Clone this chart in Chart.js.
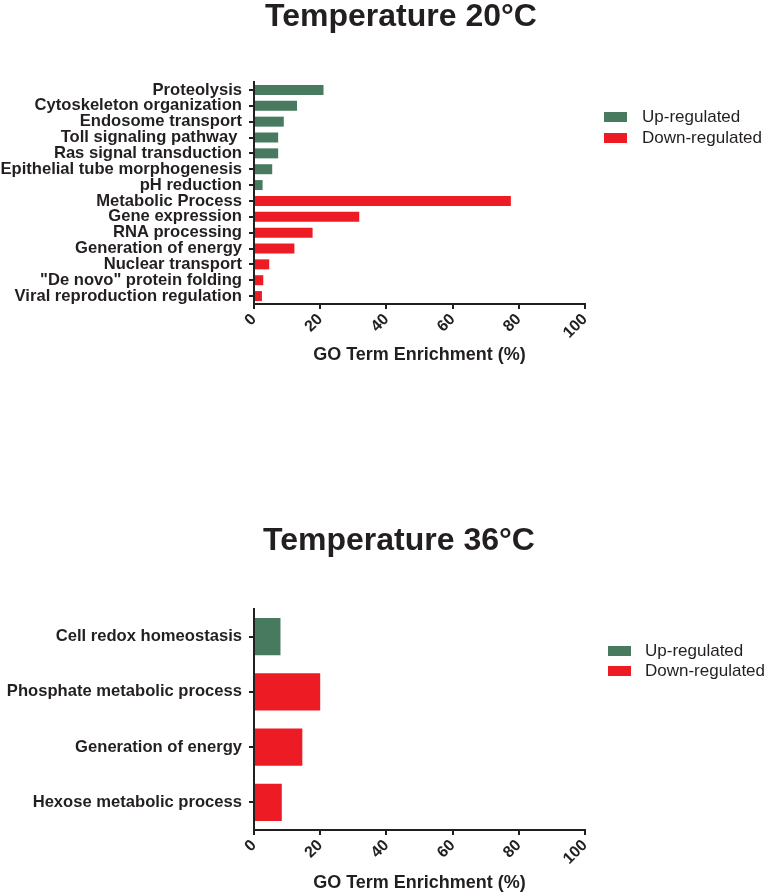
<!DOCTYPE html>
<html>
<head>
<meta charset="utf-8">
<script src="https://cdn.jsdelivr.net/npm/chart.js@4.4.1/dist/chart.umd.min.js"></script>
<style>
  body { margin: 0; background: #fff; width: 770px; height: 894px; overflow: hidden; position: relative; }
  canvas { position: absolute; left: 0; }
</style>
</head>
<body>
<canvas id="c20" width="770" height="366" style="top:0px"></canvas>
<canvas id="c36" width="770" height="371" style="top:523px"></canvas>
<script>
const terms20 = ['Proteolysis', 'Cytoskeleton organization', 'Endosome transport', 'Toll signaling pathway ',
  'Ras signal transduction', 'Epithelial tube morphogenesis', 'pH reduction', 'Metabolic Process',
  'Gene expression', 'RNA processing', 'Generation of energy', 'Nuclear transport',
  '"De novo" protein folding', 'Viral reproduction regulation'];
const up20 = [21, 13, 9, 7.3, 7.3, 5.5, 2.6, null, null, null, null, null, null, null];
const down20 = [null, null, null, null, null, null, null, 77.6, 31.8, 17.7, 12.2, 4.6, 2.8, 2.4];

const terms36 = ['Cell redox homeostasis', 'Phosphate metabolic process', 'Generation of energy', 'Hexose metabolic process'];
const up36 = [8, null, null, null];
const down36 = [null, 20, 14.6, 8.4];

const xMin = 0;
const xMax = 100;
const xStep = 20;

const GREEN = '#477a5f';
const RED = '#ed1c24';
const INK = '#231f20';
const FONT = 'Arial, "Liberation Sans", Helvetica, sans-serif';

// heading + legend drawn by hand, the built-in ones can't sit where the figure has them
const decor = {
  id: 'decor',
  afterDraw(chart, args, opts) {
    const ctx = chart.ctx;
    ctx.save();
    ctx.fillStyle = INK;
    ctx.font = `bold 32px ${FONT}`;
    ctx.textAlign = 'center';
    ctx.textBaseline = 'alphabetic';
    ctx.fillText(opts.title, opts.titleX, opts.titleY);

    ctx.font = `17px ${FONT}`;
    ctx.textAlign = 'left';
    ctx.textBaseline = 'middle';
    chart.data.datasets.forEach((ds, i) => {
      const y = opts.legY + i * opts.legGap;
      ctx.fillStyle = ds.backgroundColor;
      ctx.fillRect(opts.legX, y - 5, 23, 10);
      ctx.fillStyle = INK;
      ctx.fillText(ds.label, opts.legTextX, y);
    });
    ctx.restore();
  },
};

const makeChart = (id, terms, up, down, cfg) => {
  const ctx = document.getElementById(id).getContext('2d');
  return new Chart(ctx, {
    type: 'bar',
    data: {
      labels: [...terms],
      datasets: [
        { label: 'Up-regulated', data: [...up], backgroundColor: GREEN },
        { label: 'Down-regulated', data: [...down], backgroundColor: RED },
      ],
    },
    options: {
      indexAxis: 'y',
      responsive: false,
      animation: false,
      grouped: false,
      skipNull: true,
      barPercentage: cfg.barPct,
      categoryPercentage: 1,
      layout: { padding: { left: 0, right: 185, top: cfg.top, bottom: 0 } },
      plugins: {
        legend: { display: false },
        tooltip: { enabled: false },
        title: { display: false },
        decor: cfg.decor,
      },
      scales: {
        x: {
          type: 'linear',
          min: xMin,
          max: xMax,
          afterFit: (scale) => { scale.height = cfg.xHeight; },
          ticks: {
            stepSize: xStep,
            minRotation: 45,
            maxRotation: 45,
            padding: 1,
            color: INK,
            font: { family: FONT, size: 16, weight: 'bold' },
          },
          grid: { drawOnChartArea: false, drawTicks: true, tickLength: 5, color: INK, lineWidth: 2 },
          border: { display: true, color: INK, width: 2 },
          title: {
            display: true,
            text: 'GO Term Enrichment (%)',
            color: INK,
            font: { family: FONT, size: 18, weight: 'bold', lineHeight: 1.2 },
            padding: 0,
          },
        },
        y: {
          type: 'category',
          afterFit: (scale) => { scale.width = 254; },
          ticks: {
            autoSkip: false,
            padding: 7,
            color: INK,
            font: { family: FONT, size: 16.6, weight: 'bold' },
          },
          grid: { offset: false, drawOnChartArea: false, drawTicks: true, tickLength: 5, color: INK, lineWidth: 2 },
          border: { display: true, color: INK, width: 2 },
        },
      },
    },
    plugins: [decor],
  });
};

makeChart('c20', terms20, up20, down20, {
  barPct: 0.63,
  top: 82,
  xHeight: 62,
  decor: { title: 'Temperature 20°C', titleX: 401, titleY: 26, legX: 604, legTextX: 642, legY: 117, legGap: 21 },
});

makeChart('c36', terms36, up36, down36, {
  barPct: 0.67,
  top: 86,
  xHeight: 64,
  decor: { title: 'Temperature 36°C', titleX: 399, titleY: 27, legX: 608, legTextX: 645, legY: 128, legGap: 20 },
});
</script>
</body>
</html>
